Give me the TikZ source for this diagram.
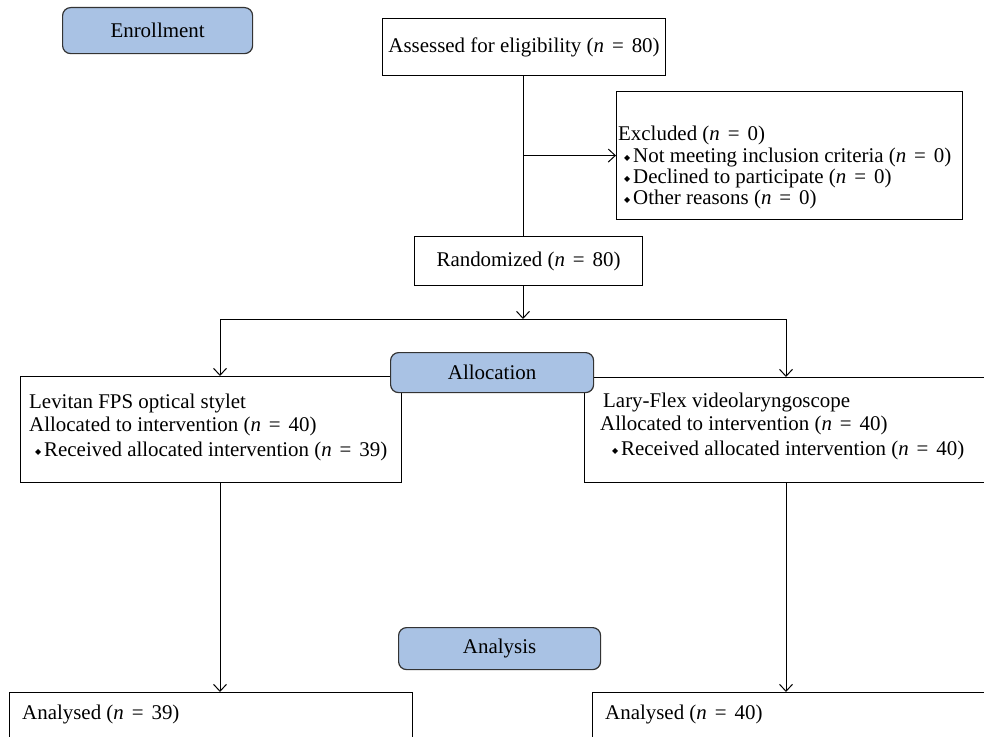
\documentclass[tikz,border=0pt]{standalone}
\usepackage{fontspec}
\setmainfont{Liberation Serif}
\newfontfamily\symfont{DejaVu Sans}
\usetikzlibrary{arrows.meta,positioning}
\definecolor{stageblue}{HTML}{A9C2E4}
\definecolor{edgegray}{HTML}{333333}
\newcommand{\nis}[1]{\textit{n}\hspace{0.38em}=\hspace{0.38em}#1}
\newcommand{\bul}{\makebox[9bp][l]{\raisebox{2bp}{\symfont\fontsize{8}{8}\selectfont ◆}}}
\tikzset{
  stage/.style={draw=edgegray, fill=stageblue, rounded corners=8bp, line width=1.2bp,
    inner sep=0pt, anchor=north west},
  plainbox/.style={draw, line width=1.1bp, inner sep=0pt, anchor=north west},
  boxtext/.style={align=left, inner sep=0pt, anchor=north west},
  flow/.style={line width=1bp, -{Straight Barb[length=7bp,width=13bp]}},
  link/.style={line width=1bp}
}
\begin{document}
\begin{tikzpicture}[x=1bp, y=-1bp, font=\fontsize{21}{22.5}\selectfont]
  \clip (0,0) rectangle (984,737);
  \fill[white] (0,0) rectangle (984,737);
  % boxes
  \node[stage, minimum width=190bp, minimum height=46bp] (enroll) at (62,7) {Enrollment};
  \node[plainbox, minimum width=283bp, minimum height=57bp] (assess) at (382,18) {Assessed for eligibility (\nis{80})};
  \node[plainbox, minimum width=346bp, minimum height=128bp] (excl) at (616,91) {};
  \node[plainbox, minimum width=228bp, minimum height=49bp] (random) at (414,236) {Randomized (\nis{80})};
  \node[plainbox, minimum width=381bp, minimum height=106bp] (leftarm) at (20,376) {};
  \node[plainbox, minimum width=420bp, minimum height=105bp] (rightarm) at (584,377) {};
  \node[stage, minimum width=203bp, minimum height=40bp] (alloc) at (390,352) {Allocation};
  \node[stage, minimum width=202bp, minimum height=42bp] (analys) at (398,627) {Analysis};
  \node[plainbox, minimum width=403bp, minimum height=100bp] (leftout) at (9,692) {};
  \node[plainbox, minimum width=420bp, minimum height=100bp] (rightout) at (592,692) {};
  % box texts
  \node[boxtext, font=\fontsize{21}{21.5}\selectfont] (excltext) at (618,126)
    {Excluded (\nis{0})\\
     \hspace*{6bp}\bul Not meeting inclusion criteria (\nis{0})\\
     \hspace*{6bp}\bul Declined to participate (\nis{0})\\
     \hspace*{6bp}\bul Other reasons (\nis{0})};
  \node[boxtext] (lefttext) at (29,394)
    {Levitan FPS optical stylet\\
     Allocated to intervention (\nis{40})\\[3bp]
     \hspace*{6bp}\bul Received allocated intervention (\nis{39})};
  \node[boxtext] (righttext) at (600,393)
    {\hspace*{3bp}Lary-Flex videolaryngoscope\\
     Allocated to intervention (\nis{40})\\[3bp]
     \hspace*{12bp}\bul Received allocated intervention (\nis{40})};
  \node[boxtext] (lefttextout) at (22,705) {Analysed (\nis{39})};
  \node[boxtext] (righttextout) at (605,705) {Analysed (\nis{40})};
  % connectors
  \coordinate (fork) at (523,319);
  \coordinate (forkL) at (220,319);
  \coordinate (forkR) at (786,319);
  \draw[link] (assess.south -| fork) -- (random.north -| fork);
  \draw[flow] (excl.west -| fork) -- (excl.west);
  \draw[flow] (random.south -| fork) -- (fork);
  \draw[link] (forkL) -- (forkR);
  \draw[flow] (forkL) -- (forkL |- leftarm.north);
  \draw[flow] (forkR) -- (forkR |- rightarm.north);
  \draw[flow] (forkL |- leftarm.south) -- (forkL |- leftout.north);
  \draw[flow] (forkR |- rightarm.south) -- (forkR |- rightout.north);
\end{tikzpicture}
\end{document}
